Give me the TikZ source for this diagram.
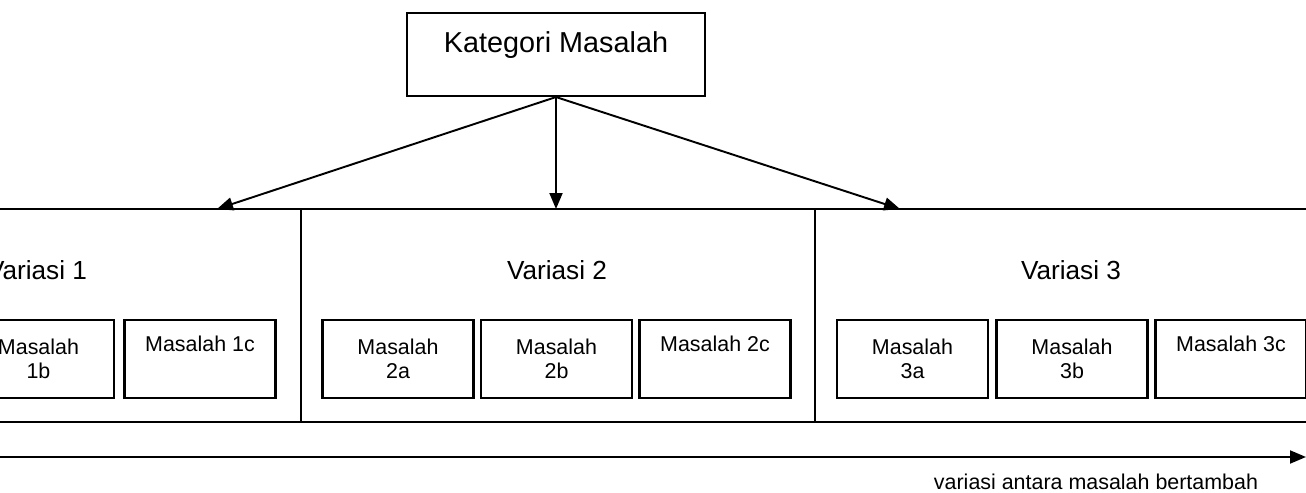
\documentclass[tikz,border=0pt]{standalone}
\usepackage{fontspec}
\setmainfont{Liberation Sans}
\usetikzlibrary{arrows.meta}

\tikzset{
  garis/.style={line width=1.2pt},
  panah/.style={line width=1.1pt, -{Triangle[length=0.32cm,width=0.26cm]}},
  kategori/.style={draw, line width=1.2pt, minimum width=5.96cm, inner ysep=0pt,
    text height=0.8cm, text depth=0.86cm, font=\fontsize{16.4}{19}\selectfont},
  variasi/.style={font=\fontsize{14.9}{17}\selectfont},
  masalah/.style={draw, line width=1.2pt, minimum width=3.02cm, minimum height=1.56cm, align=center,
    font=\fontsize{12.2}{13.6}\selectfont},
}

\begin{document}
\begin{tikzpicture}[x=0.02cm, y=-0.02cm]
        \useasboundingbox (0,0) rectangle (1306,493);
        \clip (0,0) rectangle (1306,493);

        % kategori
        \node[kategori] (kat) at (556,54.5) {Kategori Masalah};

        % rangka variasi
        \draw[garis] (0,209) -- (1306,209);
        \draw[garis] (0,422) -- (1306,422);
        \draw[garis] (301,209) -- (301,422);
        \draw[garis] (815,209) -- (815,422);

        \coordinate (t1) at (217,209);
        \coordinate (t2) at (556,209);
        \coordinate (t3) at (900,209);
        \foreach \t in {t1,t2,t3} {\draw[panah] (kat.south) -- (\t);}

        % variasi 1
        \node[variasi] (v1) at (37,270) {Variasi 1};
        \node[masalah] (m1b) at (38.5,359) {Masalah\\1b};
        \node[masalah] (m1c) at (200,359) {Masalah 1c\\\strut};

        % variasi 2
        \node[variasi] (v2) at (557,270) {Variasi 2};
        \node[masalah] (m2a) at (398,359) {Masalah\\2a};
        \node[masalah] (m2b) at (556.5,359) {Masalah\\2b};
        \node[masalah] (m2c) at (715,359) {Masalah 2c\\\strut};

        % variasi 3
        \node[variasi] (v3) at (1071,270) {Variasi 3};
        \node[masalah] (m3a) at (912.5,359) {Masalah\\3a};
        \node[masalah] (m3b) at (1072,359) {Masalah\\3b};
        \node[masalah] (m3c) at (1231,359) {Masalah 3c\\\strut};

        % sumbu
        \coordinate (s0) at (0,457);
        \coordinate (s1) at (1306,457);
        \draw[panah] (s0) -- (s1);
        \node[font=\fontsize{12.2}{14}\selectfont] (ket) at (1096,482) {variasi antara masalah bertambah};
    \end{tikzpicture}
\end{document}
